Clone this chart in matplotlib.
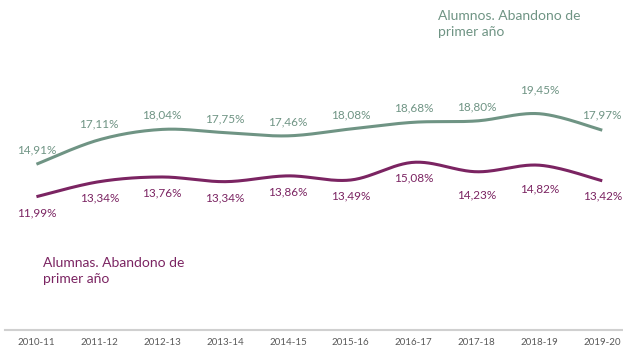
import numpy as np
import matplotlib.pyplot as plt

plt.rcParams['font.family'] = ['Lato', 'DejaVu Sans']

cursos = ['2010-11', '2011-12', '2012-13', '2013-14', '2014-15',
          '2015-16', '2016-17', '2017-18', '2018-19', '2019-20']
alumnos = [14.91, 17.11, 18.04, 17.75, 17.46, 18.08, 18.68, 18.80, 19.45, 17.97]
alumnas = [11.99, 13.34, 13.76, 13.34, 13.86, 13.49, 15.08, 14.23, 14.82, 13.42]

VERDE = '#6f9484'
MORADO = '#7b2462'

# separacion de cada etiqueta respecto a su punto (en pixeles)
sep_alumnos = [14, 16, 14, 14, 14, 14, 14, 14, 24, 15]
sep_alumnas = [16, 16, 16, 16, 16, 16, 16, 23, 24, 15]


def suavizar(xs, ys, n=30):
    # curva tipo Catmull-Rom (Bezier cubica) como la linea suavizada de Excel
    xs = np.asarray(xs, float)
    ys = np.asarray(ys, float)
    px = np.concatenate([[xs[0]], xs, [xs[-1]]])
    py = np.concatenate([[ys[0]], ys, [ys[-1]]])
    out_x, out_y = [], []
    t = np.linspace(0, 1, n)
    for i in range(1, len(px) - 2):
        p0 = np.array([px[i], py[i]])
        p3 = np.array([px[i + 1], py[i + 1]])
        p1 = p0 + (np.array([px[i + 1], py[i + 1]]) - np.array([px[i - 1], py[i - 1]])) / 6
        p2 = p3 - (np.array([px[i + 2], py[i + 2]]) - np.array([px[i], py[i]])) / 6
        b = ((1 - t) ** 3)[:, None] * p0 + (3 * (1 - t) ** 2 * t)[:, None] * p1 \
            + (3 * (1 - t) * t ** 2)[:, None] * p2 + (t ** 3)[:, None] * p3
        out_x.extend(b[:, 0])
        out_y.extend(b[:, 1])
    return out_x, out_y


fig = plt.figure(figsize=(6.23, 3.52), dpi=100)
ax = fig.add_axes([5 / 623, 22 / 352, 618 / 623, 330 / 352])

x = np.arange(len(cursos))
sx, sy = suavizar(x, alumnos)
ax.plot(sx, sy, color=VERDE, lw=2.2, solid_capstyle='butt')
sx, sy = suavizar(x, alumnas)
ax.plot(sx, sy, color=MORADO, lw=2.2, solid_capstyle='butt')

fmt = lambda v: f'{v:.2f}%'.replace('.', ',')
for i, v in enumerate(alumnos):
    ax.annotate(fmt(v), (x[i], v), xytext=(0, sep_alumnos[i] * 0.72), textcoords='offset points',
                ha='center', va='center', fontsize=8.5, color=VERDE)
for i, v in enumerate(alumnas):
    ax.annotate(fmt(v), (x[i], v), xytext=(0, -sep_alumnas[i] * 0.72), textcoords='offset points',
                ha='center', va='center', fontsize=8.5, color=MORADO)

ax.text(438 / 623, 1 - 24 / 352, 'Alumnos. Abandono de\nprimer año', transform=fig.transFigure,
        fontsize=10, color=VERDE, va='center', ha='left', linespacing=1.35)
ax.text(43 / 623, 1 - 271 / 352, 'Alumnas. Abandono de\nprimer año', transform=fig.transFigure,
        fontsize=10, color=MORADO, va='center', ha='left', linespacing=1.35)

ax.set_xlim(-0.5, 9.33)
ax.set_ylim(0, 330 / 11.12)
ax.set_xticks(x)
ax.set_xticklabels(cursos, fontsize=7, color='#595959')
ax.tick_params(axis='x', length=0, pad=6)
ax.set_yticks([])
for s in ['top', 'right', 'left']:
    ax.spines[s].set_visible(False)
ax.spines['bottom'].set_color('#d0d0d0')
ax.spines['bottom'].set_linewidth(1.5)

fig.savefig('out.png', dpi=100)
